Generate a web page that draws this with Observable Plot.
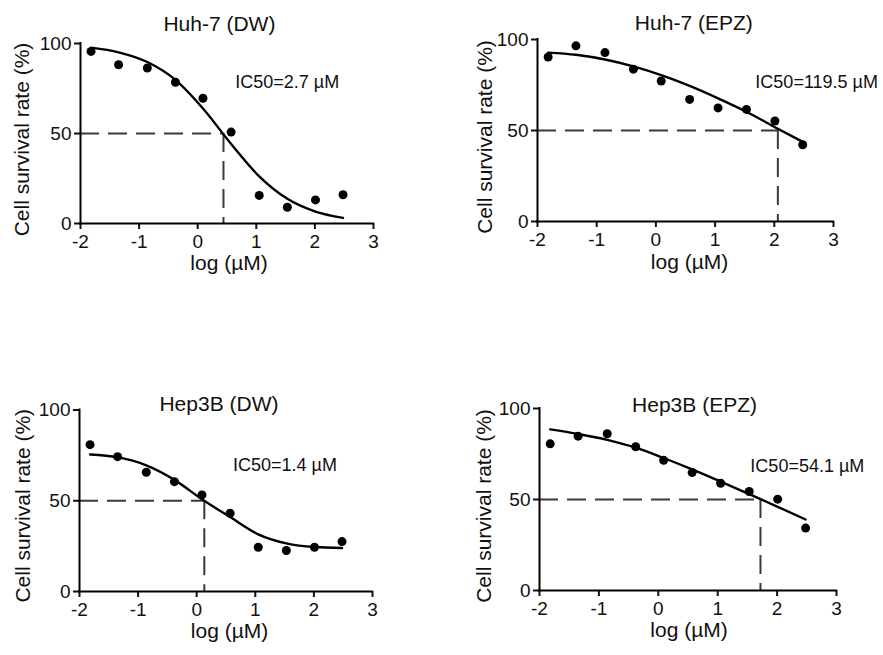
<!DOCTYPE html>
<html>
<head>
<meta charset="utf-8">
<script src="https://cdn.jsdelivr.net/npm/d3@7"></script>
<script src="https://cdn.jsdelivr.net/npm/@observablehq/plot@0.6"></script>
<style>
  html, body { margin: 0; padding: 0; background: #fff; }
  #fig { position: relative; width: 883px; height: 655px; overflow: hidden; }
  #fig > div { position: absolute; }
  #fig svg g[aria-label$="tick"] path { stroke-width: 2px; }
  #fig svg .tick line { stroke-width: 2px; }
</style>
</head>
<body>
<div id="fig"></div>
<script>
// ---- data ----
const logDose = [-1.82, -1.35, -0.86, -0.38, 0.09, 0.57, 1.05, 1.53, 2.01, 2.48];

const huh7DW   = [95.6, 88.2, 86.4, 78.5, 69.6, 50.8, 15.6, 9.0, 13.1, 16.0];
const huh7EPZ  = [90.4, 96.5, 92.8, 83.7, 77.2, 67.1, 62.4, 61.6, 55.2, 42.2];
const hep3bDW  = [80.9, 74.3, 65.7, 60.5, 53.2, 43.1, 24.4, 22.6, 24.4, 27.5];
const hep3bEPZ = [80.6, 84.8, 86.1, 79.0, 71.5, 64.8, 58.9, 54.4, 50.2, 34.3];

// fitted curves at the same doses
const huh7DWFit   = [97.7, 95.1, 89.7, 79.8, 63.9, 44.2, 26.2, 13.7, 6.6, 3.1];
const huh7EPZFit  = [92.8, 91.6, 89.0, 85.2, 80.4, 74.5, 67.7, 60.3, 51.8, 43.8];
const hep3bDWFit  = [75.5, 74.0, 69.5, 61.5, 50.8, 41.0, 31.5, 26.5, 24.5, 24.0];
const hep3bEPZFit = [88.5, 86.0, 82.8, 78.5, 72.8, 66.5, 59.8, 53.0, 46.0, 39.0];

const titles = ["Huh-7 (DW)", "Huh-7 (EPZ)", "Hep3B (DW)", "Hep3B (EPZ)"];
const ic50Labels = ["IC50=2.7 µM", "IC50=119.5 µM", "IC50=1.4 µM", "IC50=54.1 µM"];
const ic50Log = [0.44, 2.06, 0.13, 1.72];
const xTicks = [-2, -1, 0, 1, 2, 3];
const yTicks = [0, 50, 100];
const xLabel = "log (µM)";
const yLabel = "Cell survival rate (%)";

const survival = [huh7DW, huh7EPZ, hep3bDW, hep3bEPZ];
const fits = [huh7DWFit, huh7EPZFit, hep3bDWFit, hep3bEPZFit];

// ---- layout (positions only) ----
const layout = [
  {left: 0,   top: 0,   width: 441, height: 300, ml: 80, mr: 68, mt: 43, mb: 77,
   title: [0.37, 110.9], note: [0.64, 78.6], ylab: [-58, 6], xlab: [2, 46]},
  {left: 441, top: 0,   width: 442, height: 300, ml: 96, mr: 50, mt: 39, mb: 79,
   title: [0.64, 109.0], note: [1.68, 76.7], ylab: [-52, 6.5], xlab: [4, 47]},
  {left: 0,   top: 330, width: 441, height: 325, ml: 79, mr: 69, mt: 79.5, mb: 64,
   title: [0.38, 103.0], note: [0.62, 69.5], ylab: [-56.5, 5], xlab: [3.5, 46.5]},
  {left: 441, top: 330, width: 442, height: 325, ml: 98, mr: 47, mt: 78, mb: 65,
   title: [0.61, 101.6], note: [1.55, 68.3], ylab: [-55, 6.5], xlab: [1, 46.5]}
];

const font = "'Liberation Sans', Arial, Helvetica, sans-serif";
const fig = document.getElementById("fig");
const fmt = d => String(d);

layout.forEach((L, i) => {
  const pts = logDose.map((x, j) => ({x, y: survival[i][j]}));
  const fit = logDose.map((x, j) => ({x, y: fits[i][j]}));
  const ic = ic50Log[i];

  const chart = Plot.plot({
    width: L.width,
    height: L.height,
    marginLeft: L.ml,
    marginRight: L.mr,
    marginTop: L.mt,
    marginBottom: L.mb,
    style: {fontFamily: font, fontSize: "19px", color: "#111", background: "transparent", overflow: "visible"},
    x: {domain: [-2, 3], ticks: xTicks, tickFormat: fmt, tickSize: 6, tickPadding: 5, label: null},
    y: {domain: [0, 100], ticks: yTicks, tickFormat: fmt, tickSize: 6, tickPadding: 3, label: null},
    marks: [
      Plot.ruleY([{y: 50, x1: -2, x2: ic}], {y: "y", x1: "x1", x2: "x2", stroke: "#3a3a3a", strokeWidth: 2, strokeDasharray: "19,9"}),
      Plot.ruleX([{x: ic, y1: 50, y2: 0}], {x: "x", y1: "y1", y2: "y2", stroke: "#3a3a3a", strokeWidth: 2, strokeDasharray: "19,9"}),
      Plot.ruleX([-2], {stroke: "#000", strokeWidth: 2, strokeLinecap: "square"}),
      Plot.ruleY([0], {stroke: "#000", strokeWidth: 2, strokeLinecap: "square"}),
      Plot.line(fit, {x: "x", y: "y", curve: "monotone-x", stroke: "#000", strokeWidth: 2.4}),
      Plot.dot(pts, {x: "x", y: "y", r: 4.5, fill: "#000", stroke: "none"}),
      Plot.text([{x: L.title[0], y: L.title[1], t: titles[i]}], {x: "x", y: "y", text: "t", fontSize: 21, fill: "#111"}),
      Plot.text([{x: L.note[0], y: L.note[1], t: ic50Labels[i]}], {x: "x", y: "y", text: "t", textAnchor: "start", fontSize: 18, fill: "#111"}),
      Plot.text([yLabel], {text: d => d, frameAnchor: "left", textAnchor: "middle", rotate: -90, dx: L.ylab[0], dy: L.ylab[1], fontSize: 21, fill: "#111"}),
      Plot.text([xLabel], {text: d => d, frameAnchor: "bottom", textAnchor: "middle", dx: L.xlab[0], dy: L.xlab[1], fontSize: 21, fill: "#111"})
    ]
  });

  const holder = document.createElement("div");
  holder.style.left = L.left + "px";
  holder.style.top = L.top + "px";
  holder.style.width = L.width + "px";
  holder.style.height = L.height + "px";
  holder.appendChild(chart);
  fig.appendChild(holder);
});
</script>
</body>
</html>
